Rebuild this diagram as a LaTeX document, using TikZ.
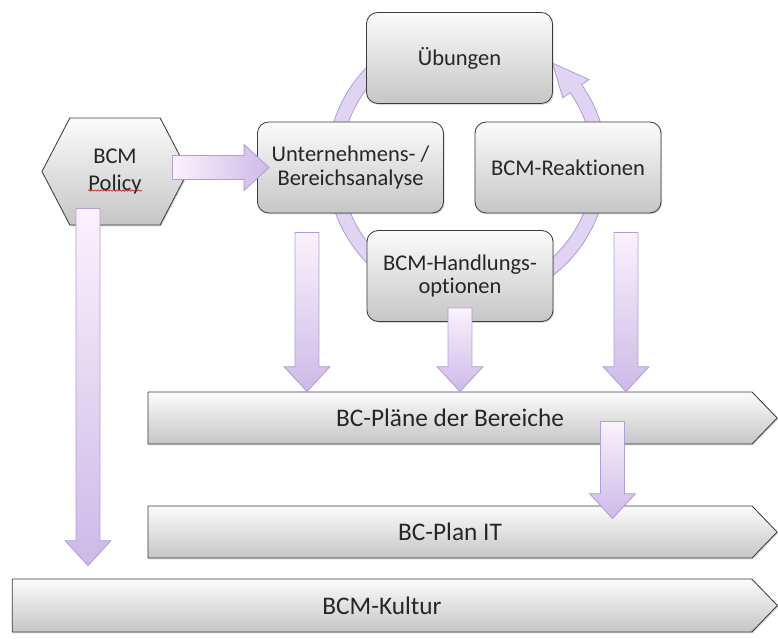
\documentclass[tikz,border=0pt]{standalone}
\usepackage{fontspec}
\setmainfont[Ligatures=NoCommon]{Carlito}
\definecolor{bxtop}{RGB}{251,251,251}
\definecolor{bxbot}{RGB}{198,198,198}
\definecolor{bxline}{RGB}{60,60,60}
\definecolor{lvlight}{RGB}{250,242,252}
\definecolor{lvdark}{RGB}{204,186,232}
\definecolor{lvline}{RGB}{178,158,214}
\definecolor{lvring}{RGB}{224,212,242}
\usetikzlibrary{calc,shapes.symbols,shadows,decorations.pathmorphing}

\def\fatbw{8.5pt}
\def\fathw{16.3pt}
\def\fathl{17.7pt}
\newcommand{\fatdown}[2]{%
  \path[fatarr, top color=lvlight, bottom color=lvdark] let \p1=(#1), \p2=(#2) in
    ({\x1-\fatbw},\y1) -- ({\x1+\fatbw},\y1) -- ({\x1+\fatbw},{\y2+\fathl})
    -- ({\x1+\fathw},{\y2+\fathl}) -- (\x1,\y2) -- ({\x1-\fathw},{\y2+\fathl})
    -- ({\x1-\fatbw},{\y2+\fathl}) -- cycle;}
\newcommand{\fatright}[2]{%
  \path[fatarr, left color=lvlight, right color=lvdark] let \p1=(#1), \p2=(#2) in
    (\x1,{\y1+\fatbw}) -- (\x1,{\y1-\fatbw}) -- ({\x2-\fathl},{\y1-\fatbw})
    -- ({\x2-\fathl},{\y1-\fathw}) -- (\x2,\y1) -- ({\x2-\fathl},{\y1+\fathw})
    -- ({\x2-\fathl},{\y1+\fatbw}) -- cycle;}

\begin{document}
\begin{tikzpicture}[x=0.025cm,y=-0.025cm,font=\fontsize{18}{17.5}\selectfont,
  cyclebox/.style={draw=bxline,line width=0.6pt,rounded corners=8pt,
    top color=bxtop,bottom color=bxbot,text=black!85,align=center,
    font=\fontsize{16}{17}\selectfont,
    minimum width=4.65cm,minimum height=2.275cm,
    drop shadow={opacity=0.3,shadow xshift=0.8pt,shadow yshift=-0.9pt}},
  planbar/.style={signal,signal to=east,signal pointer angle=92,
    draw=bxline,line width=0.6pt,top color=bxtop,bottom color=bxbot,
    text=black!85,inner sep=0pt,minimum height=1.3cm,
    drop shadow={opacity=0.3,shadow xshift=0.8pt,shadow yshift=-0.9pt}},
  policybox/.style={signal,signal to=west and east,signal pointer angle=125,
    draw=bxline,line width=0.6pt,top color=bxtop,bottom color=bxbot,
    text=black!85,align=center,inner sep=0pt,
    font=\fontsize{16}{19}\selectfont,
    minimum width=3.65cm,minimum height=2.675cm,
    drop shadow={opacity=0.3,shadow xshift=0.8pt,shadow yshift=-0.9pt}},
  fatarr/.style={draw=lvline,line width=0.6pt},
  ringarr/.style={fill=lvring,draw=lvline,line width=0.6pt}]
  \useasboundingbox (0,0) rectangle (778,639);

  % cycle ring behind the boxes
  \coordinate (ringc) at (467,165);
  \path[ringarr] ($(ringc)+(-125:140)$) arc[start angle=-125,end angle=-395,radius=140]
    -- ($(ringc)+(-395:149)$) -- ($(ringc)+(-410:133)$) -- ($(ringc)+(-395:117)$)
    -- ($(ringc)+(-395:126)$) arc[start angle=-395,end angle=-125,radius=126] -- cycle;

  \node[cyclebox] (ueb) at (459.5,58) {Übungen};
  \node[cyclebox] (unt) at (350.5,167.5) {Unternehmens- /\\Bereichsanalyse};
  \node[cyclebox] (reak) at (568,167.5) {BCM-Reaktionen};
  \node[cyclebox] (hand) at (460,276) {BCM-Handlungs-\\optionen};
  \node[policybox] (policy) at (115,171.5) {BCM\\Policy};
  \draw[red!80!black,line width=0.35pt,decorate,
        decoration={snake,amplitude=0.5pt,segment length=2.2pt}]
    ($(policy.center)+(-27,19)$) -- ++(54,0);

  %% plan bars
  \node[planbar,minimum width=15.725cm] (plaene) at (450,418) {BC-Pläne der Bereiche};
  \node[planbar,minimum width=15.725cm] (planit) at (450,532) {BC-Plan IT};
  \node[planbar,minimum width=19.125cm,minimum height=1.325cm] (kultur) at (382,605.5) {BCM-Kultur};

  %% fat arrows
  \coordinate (a0s) at ($(policy.east)+(-16,-4)$);
  \coordinate (a0e) at ($(unt.west |- a0s)+(12,0)$);
  \coordinate (a1s) at ($(unt.south)+(-43.5,19)$);
  \coordinate (a1e) at (a1s |- plaene.north);
  \coordinate (a2s) at ($(hand.south)+(0,-14)$);
  \coordinate (a2e) at (a2s |- plaene.north);
  \coordinate (a3s) at ($(reak.south)+(58,19)$);
  \coordinate (a3e) at (a3s |- plaene.north);
  \coordinate (a4s) at ($(plaene.south)+(162.5,-23)$);
  \coordinate (a4e) at ($(a4s |- planit.north)+(0,13)$);
  \coordinate (a5s) at ($(policy.south)+(-27,-17)$);
  \coordinate (a5e) at ($(a5s |- kultur.north)+(0,-13)$);
  \fatright{a0s}{a0e}
  \fatdown{a1s}{a1e}
  \fatdown{a2s}{a2e}
  \fatdown{a3s}{a3e}
  \fatdown{a4s}{a4e}
  \fatdown{a5s}{a5e}
\end{tikzpicture}
\end{document}
